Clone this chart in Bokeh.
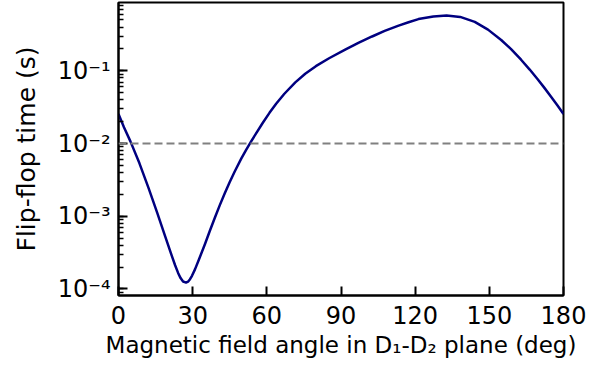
from bokeh.plotting import figure
from bokeh.models import Span, Range1d, FixedTicker, CustomJSTickFormatter
from bokeh.embed import file_html
from bokeh.resources import INLINE

# Data
angle_deg = [0, 2.21, 4.82, 8.44, 12.17, 15.67, 18.88, 21.29, 22.90, 24.11,
             25.11, 26.12, 27.32, 28.12, 28.93, 29.73, 30.94, 32.54, 34.95,
             36.96, 38.97, 40.98, 42.99, 45.00, 47.01, 49.70, 51.63, 53.72,
             56.05, 58.38, 61.07, 63.76, 67.10, 71.52, 75.53, 79.83, 85.18,
             91.88, 97.23, 102.57, 107.67, 113.30, 117.32, 121.33, 127.36,
             132.70, 138.21, 144.11, 149.46, 154.80, 158.70, 162.84, 166.33,
             169.55, 172.36, 174.89, 177.58, 180]
flipflop_time_s = [0.02549, 0.01674, 0.01071, 0.005380, 0.002440, 0.001110,
                   0.0005278, 0.0003027, 0.0002120, 0.0001661, 0.0001410,
                   0.0001264, 0.0001223, 0.0001258, 0.0001360, 0.0001518,
                   0.0001859, 0.0002541, 0.0004124, 0.0006308, 0.0009541,
                   0.001421, 0.002074, 0.002961, 0.004130, 0.006239, 0.008200,
                   0.01080, 0.01450, 0.01930, 0.02642, 0.03527, 0.04836,
                   0.06937, 0.09106, 0.1158, 0.1489, 0.1973, 0.2440, 0.2966,
                   0.3533, 0.4190, 0.4658, 0.5148, 0.5602, 0.5744, 0.5515,
                   0.4702, 0.3686, 0.2655, 0.2004, 0.1421, 0.1040, 0.07656,
                   0.05780, 0.04445, 0.03336, 0.02549]
threshold_s = 0.01
x_ticks = [0, 30, 60, 90, 120, 150, 180]

FONT = "DejaVu Sans"

p = figure(width=587, height=360, y_axis_type="log",
           x_range=Range1d(0, 180), y_range=Range1d(8.125e-5, 0.870),
           output_backend="svg", toolbar_location=None,
           min_border_left=118, min_border_right=24,
           min_border_top=2, min_border_bottom=64)

p.line(angle_deg, flipflop_time_s, line_color="#000080", line_width=2.5,
       line_join="round")
p.add_layout(Span(location=threshold_s, dimension="width", line_color="#808080",
                  line_width=2, line_dash="8 4"))

p.grid.visible = False
p.outline_line_color = "black"
p.outline_line_width = 2
p.background_fill_color = "white"
p.border_fill_color = "white"

xa = p.xaxis[0]
xa.ticker = FixedTicker(ticks=x_ticks)
xa.axis_label = "Magnetic field angle in D\u2081-D\u2082 plane (deg)"
ya = p.yaxis[0]
ya.axis_label = "Flip-flop time (s)"
ya.formatter = CustomJSTickFormatter(code="""
const e = Math.round(Math.log10(tick));
const sup = {'-':'\u207b','0':'\u2070','1':'\u00b9','2':'\u00b2','3':'\u00b3','4':'\u2074','5':'\u2075','6':'\u2076','7':'\u2077','8':'\u2078','9':'\u2079'};
return '10' + String(e).split('').map(c => sup[c]).join('');
""")

for ax in (xa, ya):
    ax.axis_line_width = 2
    ax.axis_line_color = "black"
    ax.major_tick_in = 9
    ax.major_tick_out = 0
    ax.minor_tick_in = 5
    ax.minor_tick_out = 0
    ax.major_tick_line_width = 2
    ax.minor_tick_line_width = 1.5
    ax.major_label_text_font = FONT
    ax.major_label_text_font_size = "24px"
    ax.major_label_text_color = "black"
    ax.axis_label_text_font = FONT
    ax.axis_label_text_font_style = "normal"
    ax.axis_label_text_color = "black"

xa.axis_label_text_font_size = "23px"
ya.axis_label_text_font_size = "25px"
xa.minor_tick_in = 0
xa.major_label_standoff = 10
xa.axis_label_standoff = 5
ya.major_label_standoff = 8
ya.axis_label_standoff = 14

with open("out.html", "w") as f:
    f.write(file_html(p, INLINE))
